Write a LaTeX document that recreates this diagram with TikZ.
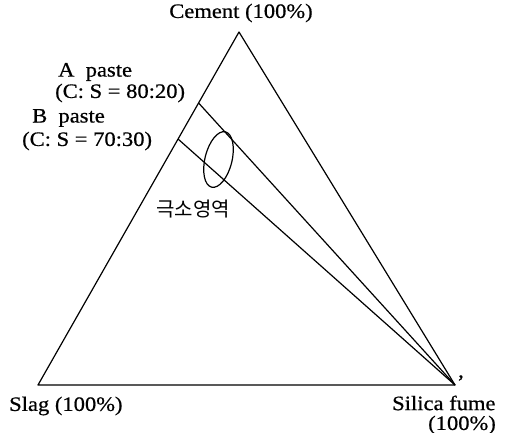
\documentclass[tikz,border=0pt]{standalone}
\usepackage{fontspec}
\setmainfont[FakeStretch=1.1,FakeBold=0.6]{Liberation Serif}
\newfontfamily\kofont{Noto Sans CJK KR}
\begin{document}
\begin{tikzpicture}[x=1pt,y=-1pt,
  edge/.style={line width=1.2pt,line join=round},
  lbl/.style={inner sep=0pt,font=\fontsize{20.5}{23}\selectfont},
  kolbl/.style={inner sep=0pt,font=\kofont\fontsize{20}{22}\selectfont}]
\useasboundingbox (0,0) rectangle (511,433);
\coordinate (C) at (239,32);
\coordinate (S) at (38,385);
\coordinate (F) at (455,385);
\coordinate (A) at (198.6,103);
\coordinate (B) at (178,139);
\draw[edge] (S) -- (C) -- (F) -- cycle;
\draw[edge] (A) -- (F);
\draw[edge] (B) -- (F);
\draw[edge,rotate around={-14:(218.5,159.5)}] (218.5,159.5) ellipse (13.5 and 28.5);
\node[lbl] (tC) at (241,13) {Cement (100\%)};
\node[lbl,anchor=west] (tA1) at (58,72) {A\ \ paste};
\node[lbl,anchor=west] (tA2) at (55,93) {(C: S = 80:20)};
\node[lbl,anchor=west] (tB1) at (32,118) {B\ \ paste};
\node[lbl,anchor=west] (tB2) at (22,141) {(C: S = 70:30)};
\node[kolbl] (tK) at (193,209) {극소영역};
\node[lbl,anchor=west] (tS) at (9,406) {Slag (100\%)};
\node[lbl,anchor=west] (tF1) at (392,403) {Silica fume};
\node[lbl,anchor=west] (tF2) at (428,425) {(100\%)};
\node[lbl] (cm) at (461,378) {,};
\end{tikzpicture}
\end{document}
